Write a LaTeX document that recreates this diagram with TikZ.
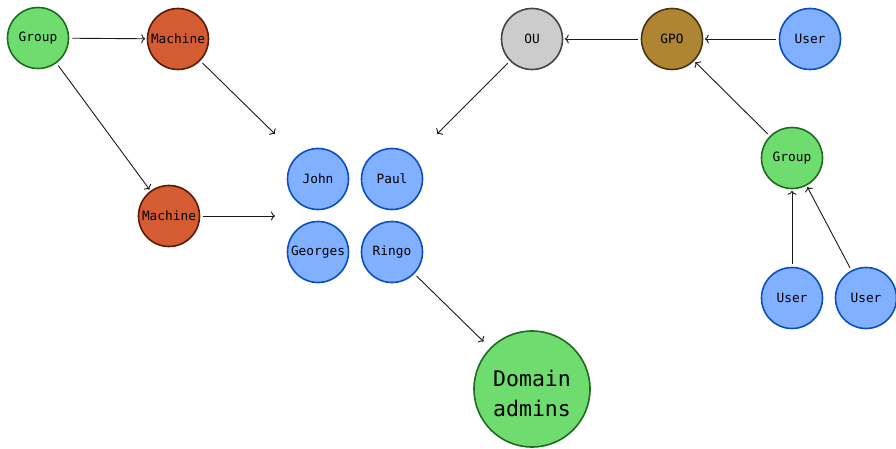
\documentclass[tikz,border=0pt]{standalone}
\usepackage{fontspec}
\setmonofont{DejaVu Sans Mono}
\usetikzlibrary{arrows.meta}
\definecolor{gfill}{HTML}{6EDC6E}
\definecolor{gdraw}{HTML}{1F6B1F}
\definecolor{mfill}{HTML}{D55B33}
\definecolor{mdraw}{HTML}{5A1A08}
\definecolor{ufill}{HTML}{80B0FF}
\definecolor{udraw}{HTML}{0B4FBF}
\definecolor{ofill}{HTML}{CCCCCC}
\definecolor{odraw}{HTML}{444444}
\definecolor{pfill}{HTML}{AD8533}
\definecolor{pdraw}{HTML}{4A3310}
\tikzset{
  ent/.style={circle, minimum size=61pt, inner sep=0pt, line width=1.6pt, text=black, font=\ttfamily\fontsize{12.8}{15}\selectfont},
  grp/.style={ent, fill=gfill, draw=gdraw},
  mach/.style={ent, fill=mfill, draw=mdraw},
  usr/.style={ent, fill=ufill, draw=udraw},
  ou/.style={ent, fill=ofill, draw=odraw},
  gpo/.style={ent, fill=pfill, draw=pdraw},
  arr/.style={draw=black!90, line width=0.9pt, -{To[length=4pt,width=9pt]}, shorten <=3pt, shorten >=1.5pt},
}
\begin{document}
\begin{tikzpicture}[x=1pt,y=-1pt]
\useasboundingbox (0,0) rectangle (896,449);
\node[grp] (g1) at (38,38) {Group};
\node[mach] (m1) at (178,39) {Machine};
\node[mach] (m2) at (169,216) {Machine};
\node[usr] (john) at (318,179) {John};
\node[usr] (paul) at (392,179) {Paul};
\node[usr] (geo) at (318,252) {Georges};
\node[usr] (ringo) at (392,252) {Ringo};
\node[grp, minimum size=116pt, align=center, font=\ttfamily\fontsize{21.5}{30}\selectfont] (dom) at (532,389) {};
\node[align=center, font=\ttfamily\fontsize{21.5}{30}\selectfont, inner sep=0pt] (domt) at (532,393) {Domain\\admins};
\node[ou] (ou) at (532,39) {OU};
\node[gpo] (gpo) at (672,39) {GPO};
\node[usr] (u1) at (810,39) {User};
\node[grp] (g2) at (792,158) {Group};
\node[usr] (u2) at (792,298) {User};
\node[usr] (u3) at (866,298) {User};
\coordinate (c1) at (275,134);
\coordinate (c2) at (275,216);
\coordinate (c3) at (437,134);
\draw[arr] (g1) -- (m1);
\draw[arr] (g1) -- (m2);
\draw[arr, shorten >=0pt] (m1) -- (c1);
\draw[arr, shorten >=0pt] (m2) -- (c2);
\draw[arr, shorten >=0pt] (ou) -- (c3);
\draw[arr, shorten >=9pt] (ringo) -- (dom);
\draw[arr] (gpo) -- (ou);
\draw[arr] (u1) -- (gpo);
\draw[arr] (g2) -- (gpo);
\draw[arr] (u2) -- (g2);
\draw[arr] (u3) -- (g2);
\end{tikzpicture}
\end{document}
